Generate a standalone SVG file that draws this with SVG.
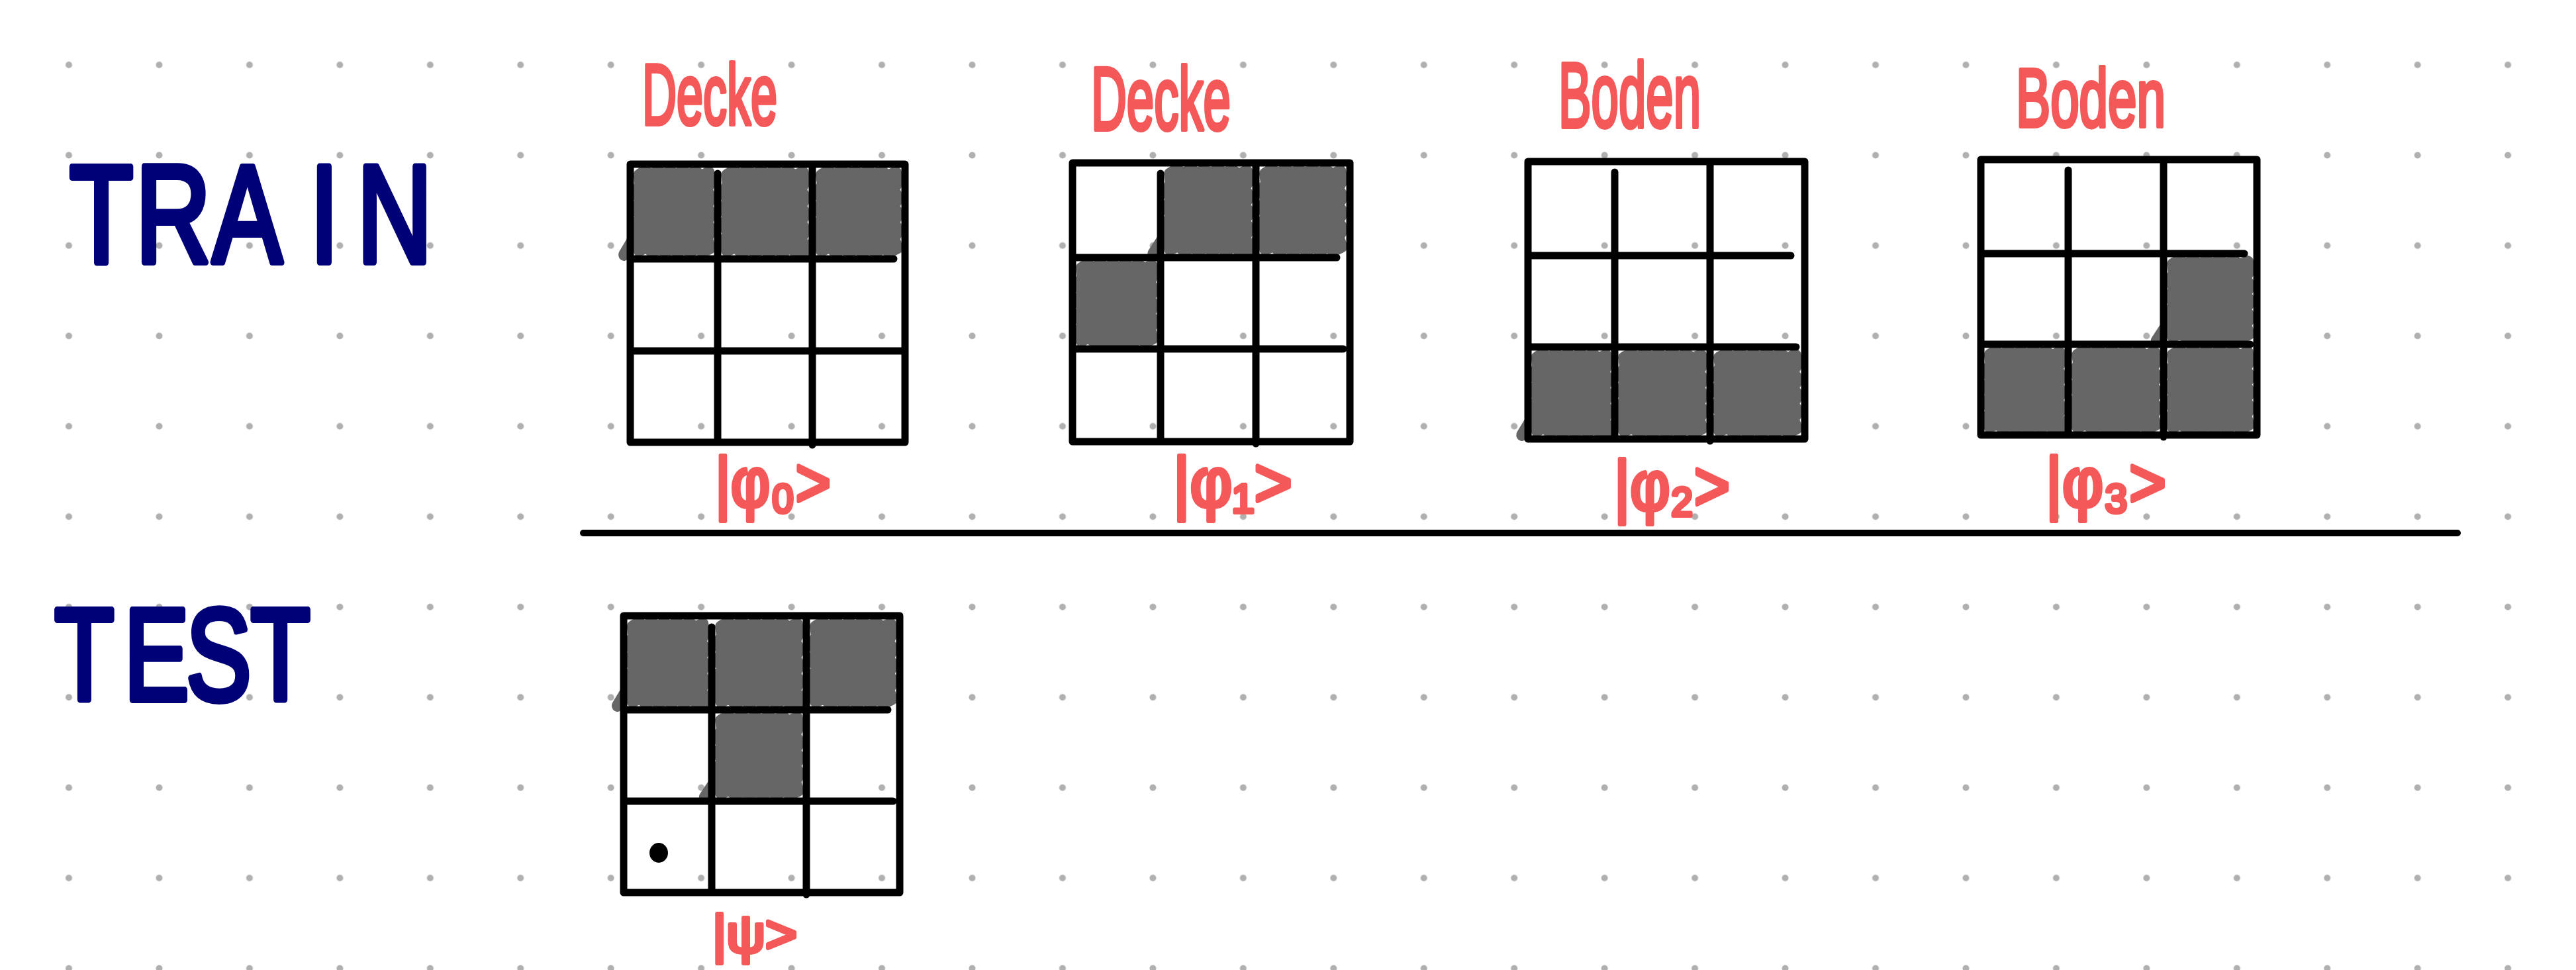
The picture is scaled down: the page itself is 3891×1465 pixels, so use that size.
<svg xmlns="http://www.w3.org/2000/svg" xmlns:xlink="http://www.w3.org/1999/xlink" width="3891" height="1465" viewBox="0 0 3891 1465">
<style>
.gl{fill:none;stroke:#000;stroke-width:11;stroke-linecap:round;stroke-linejoin:round}
.sc{fill:none;stroke:#666;stroke-width:18;stroke-linecap:round;stroke-linejoin:round}
.red{font-family:"Liberation Sans","DejaVu Sans",sans-serif;fill:#f45858;stroke:#f45858;stroke-width:6;stroke-linejoin:round;stroke-linecap:round}
.navy{font-family:"Liberation Sans","DejaVu Sans",sans-serif;fill:#000077;stroke:#000077;stroke-width:10;stroke-linejoin:round;stroke-linecap:round}
</style>
<defs>
<pattern id="dots" x="35.775" y="29.775" width="136.45" height="136.45" patternUnits="userSpaceOnUse">
<circle cx="68.225" cy="68.225" r="5" fill="#b0b0b0"/>
</pattern>
<g id="s1">
<rect x="16" y="18" width="108" height="104" fill="#666"/>
<polyline class="sc" points="14,16 24,10 34,18 44,9 54,18 64,10 74,18 84,9 94,18 104,10 114,18 126,12 129,26 122,38 130,50 122,62 130,74 122,86 130,98 123,110 128,124 116,130 106,122 96,131 86,122 76,131 66,122 56,131 46,122 36,131 26,122 14,128 10,114 17,102 9,90 17,78 9,66 17,54 9,42 16,30 14,16"/>
</g>
<g id="s2">
<use xlink:href="#s1"/>
<line class="sc" x1="-10" y1="134" x2="40" y2="56"/>
</g>
</defs>
<rect width="3891" height="1465" fill="#fff"/>
<rect width="3891" height="1465" fill="url(#dots)"/>

<g id="title-train">
<text class="navy" font-size="210" transform="scale(0.75,1)" x="140 273 428 624 719" y="396">TRAIN</text>
</g>
<g id="title-test">
<text class="navy" font-size="196" transform="scale(0.75,1)" x="110 250 375 505" y="1057">TEST</text>
</g>

<g id="phi0">
<text class="red" font-size="130" x="970" y="188" textLength="204" lengthAdjust="spacingAndGlyphs">Decke</text>
<use xlink:href="#s2" transform="translate(952,248) scale(0.943,1.02)"/>
<use xlink:href="#s1" transform="translate(1084,248) scale(1.02,1.02)"/>
<use xlink:href="#s2" transform="translate(1227,248) scale(1,1.02)"/>
<path class="gl" d="M952,248 H1367 V668 H952 Z M1084,262 V668 M1227,248 V672 M952,391 H1350 M952,530 H1362"/>
<text class="red" font-size="105" x="1080" y="765" textLength="175" lengthAdjust="spacingAndGlyphs">|φ₀&gt;</text>
</g>

<g id="phi1">
<text class="red" font-size="135" x="1648" y="196" textLength="211" lengthAdjust="spacingAndGlyphs">Decke</text>
<use xlink:href="#s2" transform="translate(1753,246) scale(1.03,1.02)"/>
<use xlink:href="#s2" transform="translate(1897,246) scale(1.01,1.02)"/>
<use xlink:href="#s1" transform="translate(1620,389) scale(0.95,0.985)"/>
<path class="gl" d="M1620,246 H2039 V667 H1620 Z M1753,262 V667 M1897,246 V670 M1620,389 H2019 M1620,527 H2029"/>
<text class="red" font-size="105" x="1772" y="765" textLength="180" lengthAdjust="spacingAndGlyphs">|φ₁&gt;</text>
</g>

<g id="phi2">
<text class="red" font-size="140" x="2354" y="192" textLength="215" lengthAdjust="spacingAndGlyphs">Boden</text>
<use xlink:href="#s2" transform="translate(2308,524) scale(0.936,0.993)"/>
<use xlink:href="#s2" transform="translate(2439,524) scale(1.03,0.993)"/>
<use xlink:href="#s1" transform="translate(2583,524) scale(1.02,0.993)"/>
<path class="gl" d="M2308,244 H2726 V663 H2308 Z M2439,260 V663 M2583,244 V666 M2308,386 H2705 M2308,524 H2713"/>
<text class="red" font-size="105" x="2438" y="770" textLength="175" lengthAdjust="spacingAndGlyphs">|φ₂&gt;</text>
</g>

<g id="phi3">
<text class="red" font-size="125" x="3045" y="191" textLength="226" lengthAdjust="spacingAndGlyphs">Boden</text>
<use xlink:href="#s2" transform="translate(3268,383) scale(1.007,0.98)"/>
<use xlink:href="#s1" transform="translate(2992,520) scale(0.943,0.98)"/>
<use xlink:href="#s2" transform="translate(3124,520) scale(1.03,0.98)"/>
<use xlink:href="#s1" transform="translate(3268,520) scale(1.007,0.98)"/>
<path class="gl" d="M2992,241 H3409 V657 H2992 Z M3124,257 V657 M3268,241 V660 M2992,383 H3390 M2992,520 H3399"/>
<text class="red" font-size="105" x="3090" y="765" textLength="182" lengthAdjust="spacingAndGlyphs">|φ₃&gt;</text>
</g>

<g id="psi">
<use xlink:href="#s2" transform="translate(942,930) scale(0.95,1.014)"/>
<use xlink:href="#s2" transform="translate(1075,930) scale(1.02,1.014)"/>
<use xlink:href="#s2" transform="translate(1218,930) scale(1.007,1.014)"/>
<use xlink:href="#s2" transform="translate(1075,1072) scale(1.02,0.986)"/>
<path class="gl" d="M942,930 H1359 V1348 H942 Z M1075,947 V1348 M1218,930 V1351 M942,1072 H1341 M942,1210 H1349"/>
<ellipse cx="995" cy="1288" rx="14" ry="15" fill="#000"/>
<text class="red" font-size="80" x="1076" y="1438" textLength="128" lengthAdjust="spacingAndGlyphs">|ψ&gt;</text>
</g>

<g id="connectors">
<line x1="881" y1="805" x2="3712" y2="805" stroke="#000" stroke-width="10" stroke-linecap="round"/>
</g>
</svg>
